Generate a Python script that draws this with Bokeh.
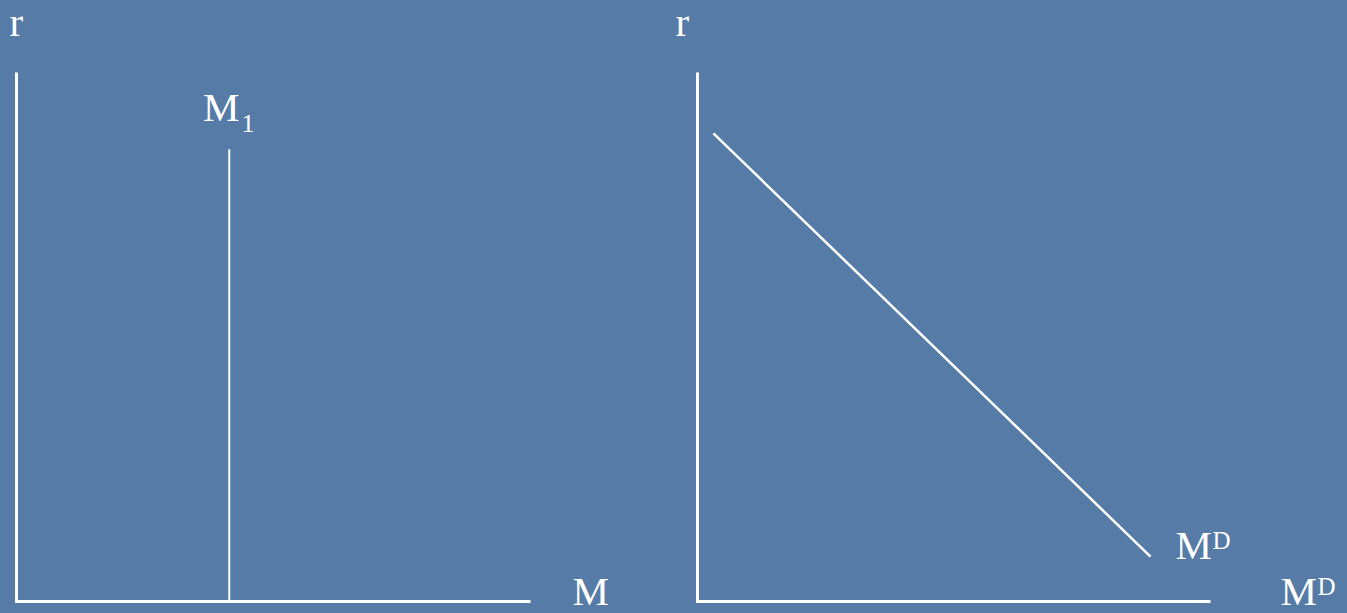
from bokeh.plotting import figure
from bokeh.layouts import row
from bokeh.models import Range1d, GlobalInlineStyleSheet
from bokeh.core.properties import value
from bokeh.embed import file_html
from bokeh.resources import INLINE

# ---- data (conceptual diagram, both axes run 0..10) ----
axis_max = 10
m_supply_x = [4.14, 4.14]        # vertical money supply M1
m_supply_r = [0.0, 8.55]
m_demand_x = [0.31, 8.83]        # downward sloping money demand MD
m_demand_r = [8.85, 0.85]

# labels: (text, x, y, size) in data units
left_labels = [("r", -0.136, 10.96, "41px"),
               ("M", 3.629, 9.34, "41px"),
               ("1", 4.377, 9.03, "26px"),
               ("M", 10.817, 0.19, "41px")]
right_labels = [("r", -0.429, 10.96, "41px"),
                ("M", 9.318, 1.06, "41px"),
                ("D", 10.039, 1.15, "25px"),
                ("M", 11.365, 0.19, "41px"),
                ("D", 12.086, 0.28, "25px")]

BG = "#557ba6"
FONT = "Liberation Serif"
H = 613


def make_fig(width, xr, yr):
    p = figure(width=width, height=H, output_backend="svg", toolbar_location=None,
               x_range=Range1d(*xr), y_range=Range1d(*yr),
               x_axis_location=None, y_axis_location=None, min_border=0)
    p.background_fill_color = BG
    p.border_fill_color = BG
    p.outline_line_color = None
    p.grid.visible = False
    # axes: r axis up the left, M axis along the bottom
    p.line([0, 0, axis_max], [axis_max, 0, 0], line_color="white", line_width=3,
           line_join="miter")
    return p


def add_labels(p, labels):
    for text, x, y, size in labels:
        p.text(x=[x], y=[y], text=[text], text_font=value(FONT),
               text_font_size=value(size), text_color="white",
               text_baseline="alphabetic", text_align="left")


Y_RANGE = (-12 / 52.9, 10 + 72 / 52.9)

# ---- left panel: money supply ----
p1 = make_fig(660, (-16 / 51.4, 10 + 130 / 51.4), Y_RANGE)
p1.line(m_supply_x, m_supply_r, line_color="white", line_width=2)
add_labels(p1, left_labels)

# ---- right panel: money demand ----
p2 = make_fig(687, (-37 / 51.3, 10 + 137 / 51.3), Y_RANGE)
p2.line(m_demand_x, m_demand_r, line_color="white", line_width=2.5)
add_labels(p2, right_labels)

layout = row(p1, p2, spacing=0)
layout.stylesheets = [GlobalInlineStyleSheet(
    css=f"html, body {{ margin: 0; padding: 0; overflow: hidden; background: {BG}; }}")]

open("out.html", "w").write(file_html(layout, INLINE))
